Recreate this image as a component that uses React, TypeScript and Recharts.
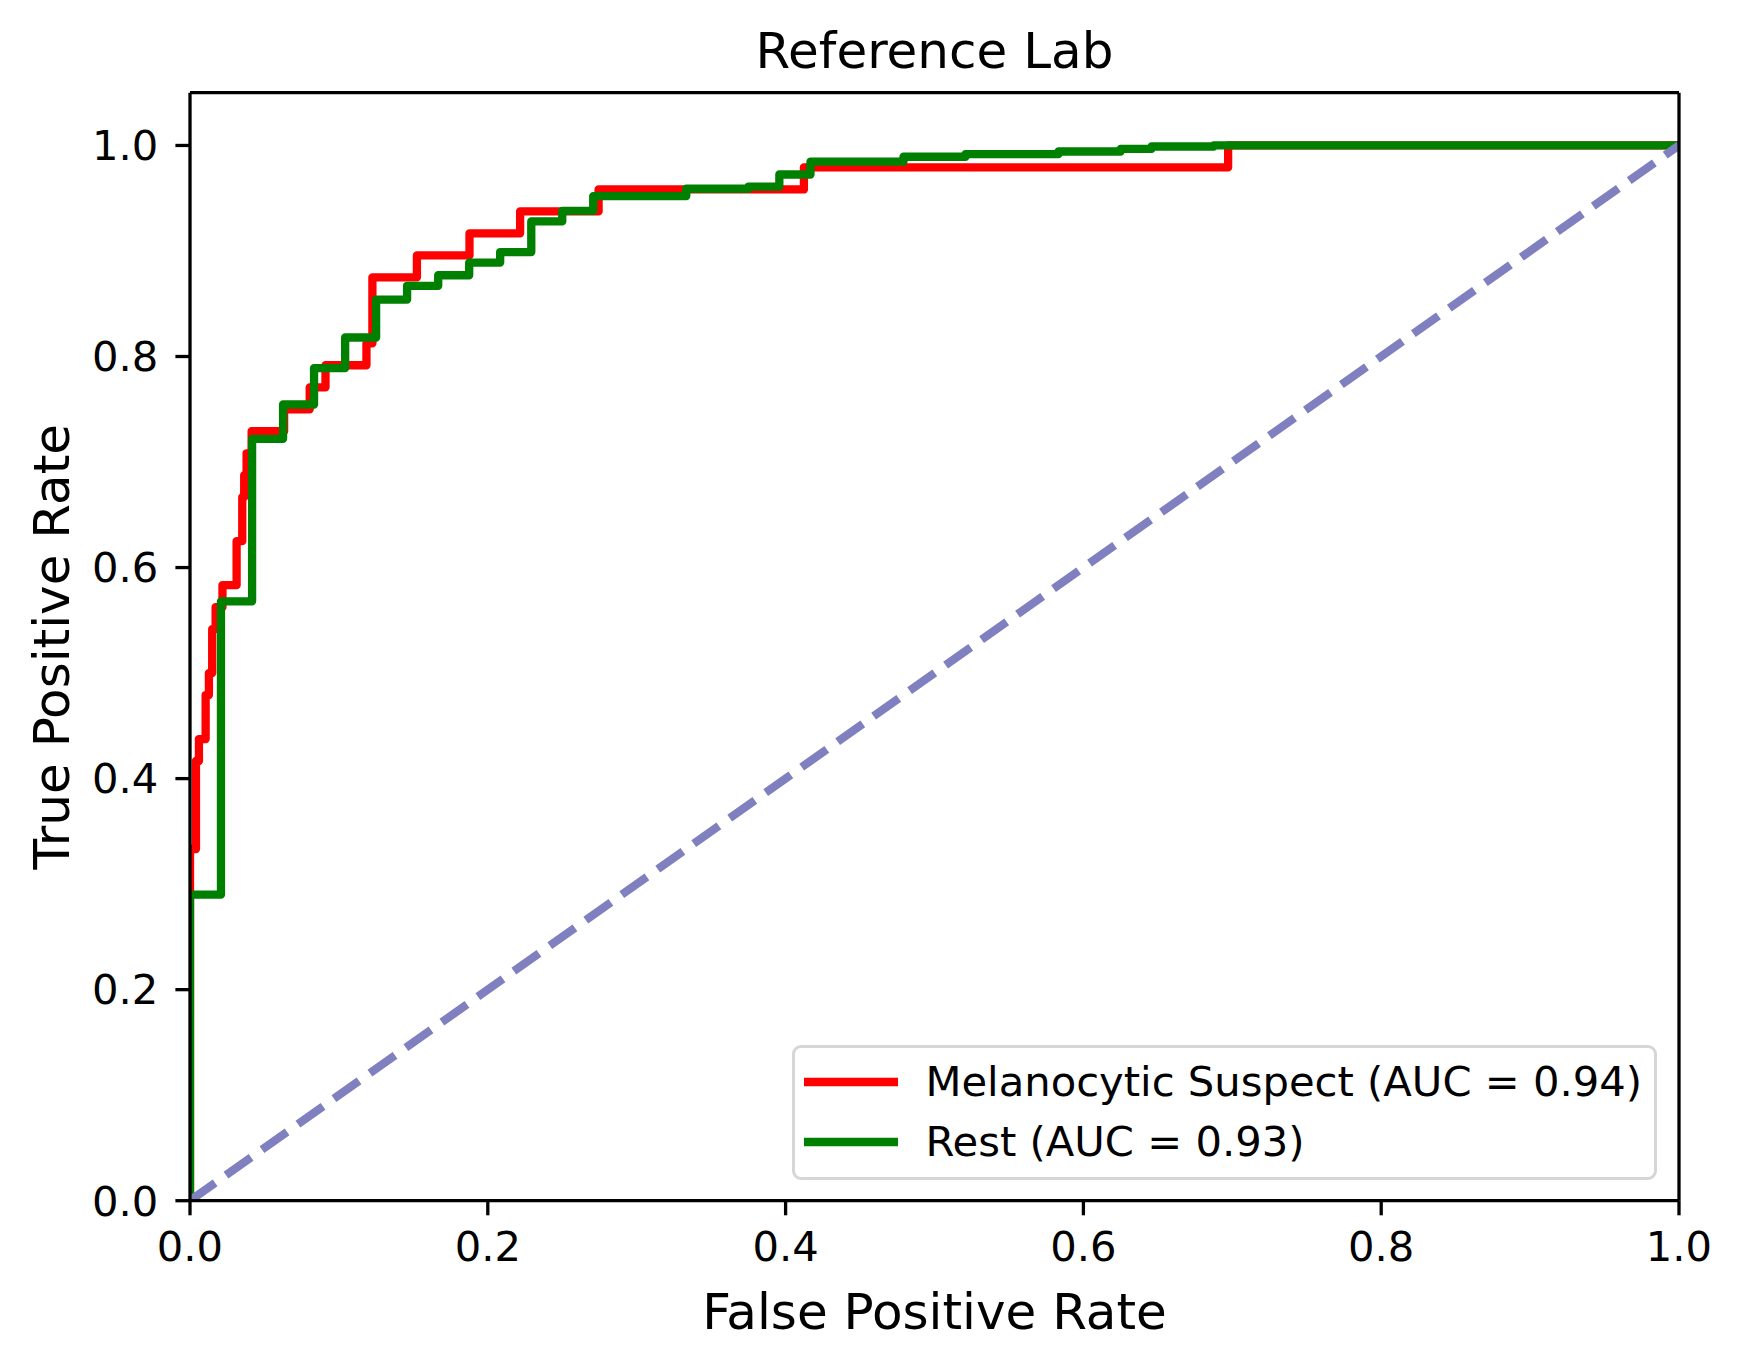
import { LineChart, Line, XAxis, YAxis, ReferenceLine } from "recharts";

// ROC corner points (fpr, tpr), drawn as step-after curves
const redFpr = [0, 0, 0.004, 0.006, 0.0105, 0.0127, 0.0149, 0.0172, 0.0218, 0.0313, 0.0351, 0.0364, 0.038, 0.0414, 0.0632, 0.0804, 0.091, 0.1185, 0.1225, 0.1524, 0.1877, 0.2217, 0.2744, 0.4123, 0.6972, 1];
const redTpr = [0, 0.3333, 0.4167, 0.4375, 0.4792, 0.5, 0.5417, 0.5625, 0.5833, 0.625, 0.6667, 0.6875, 0.7083, 0.7292, 0.75, 0.7708, 0.7917, 0.8125, 0.875, 0.8958, 0.9167, 0.9375, 0.9583, 0.9792, 1, 1];

const greenFpr = [0, 0, 0.0208, 0.0417, 0.0625, 0.0833, 0.1042, 0.125, 0.1458, 0.1667, 0.1875, 0.2083, 0.2292, 0.25, 0.2708, 0.3333, 0.375, 0.3958, 0.4167, 0.4792, 0.5208, 0.5833, 0.625, 0.6458, 0.6875, 1];
const greenTpr = [0, 0.29, 0.568, 0.722, 0.7545, 0.789, 0.818, 0.854, 0.867, 0.877, 0.889, 0.899, 0.928, 0.938, 0.952, 0.959, 0.961, 0.9725, 0.9846, 0.9893, 0.9918, 0.9943, 0.9968, 0.999, 1, 1];

const chanceX = [0, 1];
const chanceY = [0, 1];

const xTicks = [0, 0.2, 0.4, 0.6, 0.8, 1.0];
const yTicks = [0, 0.2, 0.4, 0.6, 0.8, 1.0];

const seriesNames = ["Melanocytic Suspect (AUC = 0.94)", "Rest (AUC = 0.93)"];
const seriesColors = ["#ff0000", "#008000"];

const toPoints = (xs: number[], ys: number[]) => xs.map((x, i) => ({ x, y: ys[i] }));

const redData = toPoints(redFpr, redTpr);
const greenData = toPoints(greenFpr, greenTpr);
const chanceData = toPoints(chanceX, chanceY);

const FONT = "'DejaVu Sans', sans-serif";
const TICK = 41.7;
const LABEL = 50;

export default function App() {
  const fmt = (v: number) => v.toFixed(1);
  const axisStroke = { stroke: "#000", strokeWidth: 3.3 };

  return (
    <div
      style={{
        position: "absolute",
        left: 0,
        top: 0,
        width: 1741,
        height: 1365,
        background: "#fff",
        fontFamily: FONT,
      }}
    >
      <div
        style={{
          position: "absolute",
          left: 190,
          width: 1489,
          top: 26,
          textAlign: "center",
          fontSize: LABEL,
          lineHeight: `${LABEL}px`,
          color: "#000",
        }}
      >
        Reference Lab
      </div>

      <LineChart
        width={1741}
        height={1365}
        margin={{ top: 92.7, right: 62, bottom: 36.3, left: 30 }}
      >
        <XAxis
          type="number"
          dataKey="x"
          domain={[0, 1]}
          ticks={xTicks}
          interval={0}
          allowDataOverflow
          tickFormatter={fmt}
          height={128}
          tickSize={14.6}
          tickMargin={16}
          axisLine={axisStroke}
          tickLine={axisStroke}
          tick={{ fill: "#000", fontSize: TICK, fontFamily: FONT }}
          label={{
            value: "False Positive Rate",
            position: "insideBottom",
            offset: 0,
            fill: "#000",
            fontSize: LABEL,
            fontFamily: FONT,
          }}
        />
        <YAxis
          type="number"
          domain={[0, 1.05]}
          ticks={yTicks}
          interval={0}
          allowDataOverflow
          tickFormatter={fmt}
          width={160}
          tickSize={14.6}
          tickMargin={17}
          axisLine={axisStroke}
          tickLine={axisStroke}
          tick={{ fill: "#000", fontSize: TICK, fontFamily: FONT }}
          label={{
            value: "True Positive Rate",
            angle: -90,
            position: "insideLeft",
            offset: 21.5,
            fill: "#000",
            fontSize: LABEL,
            fontFamily: FONT,
            style: { textAnchor: "middle" },
          }}
        />
        <Line
          data={redData}
          dataKey="y"
          name={seriesNames[0]}
          type="stepAfter"
          stroke={seriesColors[0]}
          strokeWidth={8.3}
          strokeLinejoin="round"
          dot={false}
          activeDot={false}
          isAnimationActive={false}
        />
        <Line
          data={greenData}
          dataKey="y"
          name={seriesNames[1]}
          type="stepAfter"
          stroke={seriesColors[1]}
          strokeWidth={8.3}
          strokeLinejoin="round"
          dot={false}
          activeDot={false}
          isAnimationActive={false}
        />
        <Line
          data={chanceData}
          dataKey="y"
          type="linear"
          stroke="#8080c0"
          strokeWidth={8.3}
          strokeDasharray="30.8 13.3"
          dot={false}
          activeDot={false}
          legendType="none"
          isAnimationActive={false}
        />
        {/* top and right spines */}
        <ReferenceLine y={1.05} stroke="#000" strokeWidth={3.3} />
        <ReferenceLine x={1} stroke="#000" strokeWidth={3.3} />
      </LineChart>

      {/* legend box, lower right */}
      <div
        style={{
          position: "absolute",
          left: 791.5,
          top: 1045,
          width: 865.5,
          height: 135,
          boxSizing: "border-box",
          border: "3.5px solid #d6d6d6",
          borderRadius: 9,
          background: "rgba(255,255,255,0.8)",
        }}
      >
        {seriesNames.map((name, i) => (
          <div
            key={name}
            style={{
              position: "absolute",
              left: 0,
              top: 34 + i * 60 - 25,
              height: 50,
              width: "100%",
            }}
          >
            <svg
              width={96}
              height={50}
              style={{ position: "absolute", left: 8, top: 0 }}
            >
              <line x1={1} y1={25} x2={95} y2={25} stroke={seriesColors[i]} strokeWidth={8.3} />
            </svg>
            <span
              style={{
                position: "absolute",
                left: 131,
                top: 0,
                fontSize: TICK,
                lineHeight: "50px",
                whiteSpace: "nowrap",
                color: "#000",
              }}
            >
              {name}
            </span>
          </div>
        ))}
      </div>
    </div>
  );
}
